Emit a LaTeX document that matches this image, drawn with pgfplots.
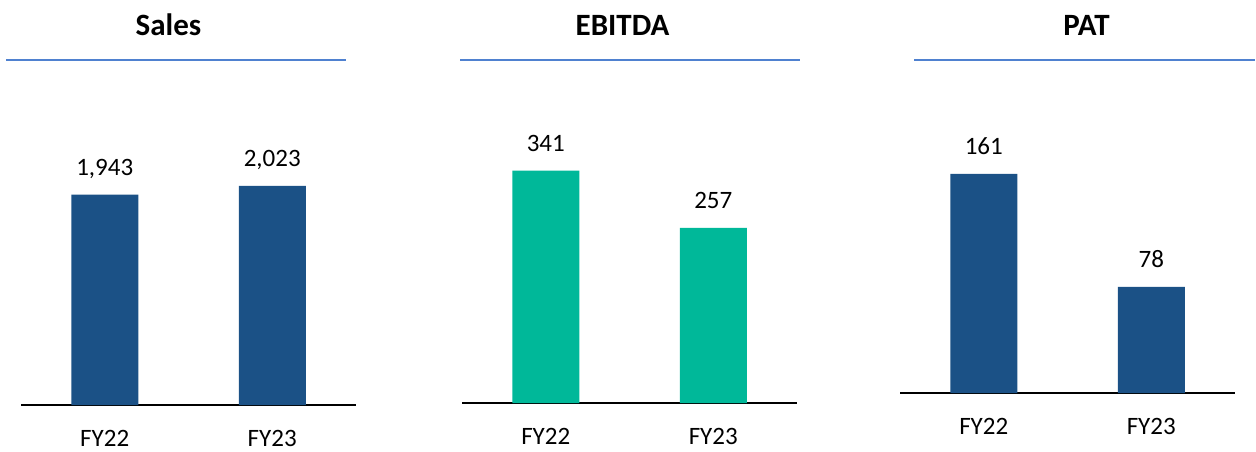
\documentclass[border=0pt]{standalone}
\usepackage{pgfplots}
\pgfplotsset{compat=1.18}
\usepackage{fontspec}
\setmainfont{Carlito}
\definecolor{darkblue}{HTML}{1B5186}
\definecolor{teal}{HTML}{00B899}
\definecolor{rule}{HTML}{4F81D0}
\pgfplotsset{
  panel/.style={
    scale only axis,
    width=167.5pt,
    anchor=south west,
    xmin=-0.5, xmax=1.5, ymin=0,
    axis x line*=bottom,
    axis y line=none,
    axis line style={black, line width=1pt, -},
    xtick={0,1},
    xticklabels={FY22,FY23},
    major tick length=0pt,
    xtick style={draw=none},
    xticklabel style={font=\fontsize{12.5}{14}\selectfont, anchor=base, yshift=-20.5pt},
    ybar, bar width=0.4,
    nodes near coords,
    every node near coord/.append style={font=\fontsize{12.5}{14}\selectfont, anchor=base, yshift=9.5pt, black},
    /pgf/number format/assume math mode=true,
    /pgf/number format/1000 sep={,},
    clip=false,
  }
}
\begin{document}
\begin{tikzpicture}
\path[use as bounding box] (0,0) rectangle (628pt,-225.5pt);
% titles
\node[anchor=base, font=\fontsize{15.5}{18}\selectfont\bfseries] at (84.25pt,-17.5pt) {Sales};
\node[anchor=base, font=\fontsize{15.5}{18}\selectfont\bfseries] at (311.25pt,-17.5pt) {EBITDA};
\node[anchor=base, font=\fontsize{15.5}{18}\selectfont\bfseries] at (543.25pt,-17.5pt) {PAT};
\draw[rule, line width=0.75pt] (3pt,-30pt) -- (173pt,-30pt);
\draw[rule, line width=0.75pt] (230pt,-30pt) -- (400pt,-30pt);
\draw[rule, line width=0.75pt] (457pt,-30pt) -- (627.5pt,-30pt);

\begin{axis}[panel, at={(10.5pt,-202.5pt)}, height=162.5pt, ymax=3000]
\addplot[fill=darkblue, draw=none] coordinates {(0,1943) (1,2023)};
\end{axis}

\begin{axis}[panel, at={(231pt,-201.5pt)}, height=162.5pt, ymax=477]
\addplot[fill=teal, draw=none] coordinates {(0,341) (1,257)};
\end{axis}

\begin{axis}[panel, at={(450pt,-196.5pt)}, height=156.5pt, ymax=230]
\addplot[fill=darkblue, draw=none] coordinates {(0,161) (1,78)};
\end{axis}
\end{tikzpicture}
\end{document}
